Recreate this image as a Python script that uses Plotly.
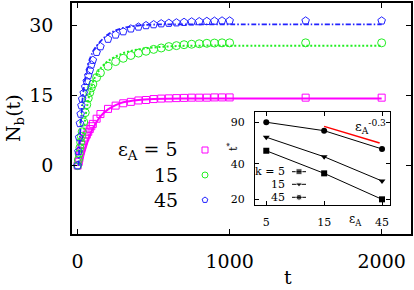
import plotly.graph_objects as go

# ---------------- data ----------------
t_sim = [0, 5, 10, 15, 20, 25, 30, 40, 50, 60, 70, 80, 90, 100, 125, 150,
         200, 250, 300, 350, 400, 450, 500, 550, 600, 650, 700, 750, 800,
         850, 900, 950, 1000, 1500, 2000]
N_eps5 = [0, 0.8, 1.6, 2.4, 3.1, 3.8, 4.4, 5.3, 6.0, 6.6, 7.2, 7.8, 8.4, 8.9,
          10.0, 11.0, 12.1, 12.8, 13.3, 13.6, 13.9, 14.0, 14.2, 14.3, 14.35,
          14.4, 14.45, 14.5, 14.5, 14.5, 14.55, 14.55, 14.55, 14.5, 14.5]
N_eps15 = [0, 1.2, 2.5, 3.8, 5, 6.2, 7.2, 9.3, 11.3, 13, 14.4, 15.6, 16.6, 17.4,
           18.8, 19.8, 21.2, 22.2, 22.9, 23.5, 24.0, 24.4, 24.8, 25.1, 25.4,
           25.6, 25.8, 25.9, 26.0, 26.1, 26.15, 26.2, 26.2, 26.2, 26.2]
N_eps45 = [0, 3, 6, 9, 11, 12.8, 14.2, 15.5, 16.8, 18, 19.2, 20.3, 21.5, 22.5,
           24.2, 25.4, 27, 27.9, 28.6, 29.2, 29.6, 29.9, 30.1, 30.3, 30.4,
           30.5, 30.6, 30.7, 30.75, 30.8, 30.85, 30.9, 30.9, 30.9, 30.9]

fit5_t = [25, 40, 50, 75, 100, 125, 150, 200, 250, 300, 400, 500, 700, 1000, 2000]
fit5_N = [0, 2.4, 3.5, 6.0, 7.9, 9.3, 10.5, 12.0, 12.9, 13.5, 14.0, 14.2, 14.3, 14.3, 14.3]
fit15_t = [15, 30, 50, 70, 100, 125, 150, 200, 300, 400, 500, 650, 800, 1000, 2000]
fit15_N = [0, 4.5, 10, 14, 17.8, 19.5, 20.7, 22.3, 24.0, 24.8, 25.2, 25.5, 25.6, 25.6, 25.6]
fit45_t = [5, 15, 25, 35, 50, 70, 100, 150, 200, 280, 400, 500, 700, 1000, 2000]
fit45_N = [0, 6, 11, 15, 18.5, 21.5, 24.3, 26.5, 28, 29.2, 29.9, 30.1, 30.15, 30.15, 30.15]

main_xticks = [0, 1000, 2000]
main_yticks = [0, 15, 30]
legend_labels = ["ε<sub>A</sub> = 5", "15", "45"]

# inset
eps_vals = [5, 15, 45]
tstar_k5 = [51.6, 33.2, 20]
tstar_k15 = [67.2, 45.9, 28.6]
tstar_k45 = [90, 76.3, 53.4]
eps_ref = [15, 43]
tstar_ref = [83, 60]
inset_xticks = [5, 15, 45]
inset_yticks = [20, 40, 90]
inset_legend_labels = ["k = 5", "15", "45"]

# ---------------- styling ----------------
MAG = "#ff00ff"
GRN = "#22ee22"
BLU = "#2222ff"
FONT = "DejaVu Serif"
BIG = 19
SMALL = 11

fig = go.Figure()

fig.add_trace(go.Scatter(x=t_sim, y=N_eps5, mode="markers",
                         marker=dict(symbol="square-open", size=7, color=MAG, line=dict(width=1)),
                         xaxis="x", yaxis="y"))
fig.add_trace(go.Scatter(x=fit5_t, y=fit5_N, mode="lines", line_shape="spline",
                         line=dict(color=MAG, width=2), xaxis="x", yaxis="y"))
fig.add_trace(go.Scatter(x=t_sim, y=N_eps15, mode="markers",
                         marker=dict(symbol="circle-open", size=8, color=GRN, line=dict(width=1)),
                         xaxis="x", yaxis="y"))
fig.add_trace(go.Scatter(x=fit15_t, y=fit15_N, mode="lines", line_shape="spline",
                         line=dict(color=GRN, width=2, dash="2px,2px"), xaxis="x", yaxis="y"))
fig.add_trace(go.Scatter(x=t_sim, y=N_eps45, mode="markers",
                         marker=dict(symbol="pentagon-open", size=8, color=BLU, line=dict(width=1)),
                         xaxis="x", yaxis="y"))
fig.add_trace(go.Scatter(x=fit45_t, y=fit45_N, mode="lines", line_shape="spline",
                         line=dict(color=BLU, width=1.8, dash="5px,2px,1.5px,2px"),
                         xaxis="x", yaxis="y"))

for vals, sym in [(tstar_k5, "square"), (tstar_k15, "triangle-down"), (tstar_k45, "circle")]:
    fig.add_trace(go.Scatter(x=eps_vals, y=vals, mode="lines+markers",
                             line=dict(color="black", width=1),
                             marker=dict(symbol=sym, size=6, color="black"),
                             xaxis="x2", yaxis="y2"))
fig.add_trace(go.Scatter(x=eps_ref, y=tstar_ref, mode="lines",
                         line=dict(color="red", width=1.5), xaxis="x2", yaxis="y2"))

leg_sym_x = 205
leg_sym_y = [150, 175, 200]
for yy, sym, col in zip(leg_sym_y, ["square-open", "circle-open", "pentagon-open"], [MAG, GRN, BLU]):
    fig.add_trace(go.Scatter(x=[leg_sym_x], y=[yy], mode="markers",
                             marker=dict(symbol=sym, size=6, color=col, line=dict(width=1)),
                             xaxis="x3", yaxis="y3"))
ins_leg_x = [292, 299, 306]
ins_leg_y = [171.7, 184.3, 197.3]
for yy, sym in zip(ins_leg_y, ["square", "triangle-down", "circle"]):
    fig.add_trace(go.Scatter(x=ins_leg_x, y=[yy] * 3, mode="lines+markers",
                             line=dict(color="black", width=1),
                             marker=dict(symbol=sym, size=[0, 6, 0], color="black"),
                             xaxis="x3", yaxis="y3"))

W, H = 414, 290
axis_common = dict(showline=True, linecolor="black", mirror="ticks", ticks="inside",
                   showgrid=False, zeroline=False, tickcolor="black")

fig.update_layout(
    width=W, height=H, margin=dict(l=0, r=0, t=0, b=0),
    paper_bgcolor="white", plot_bgcolor="rgba(0,0,0,0)", showlegend=False,
    font=dict(family=FONT, color="black"),
    xaxis=dict(domain=[72 / W, 411 / W], range=[-37, 2193], tickvals=main_xticks,
               ticklen=5, linewidth=1.5, tickwidth=1.2, tickfont=dict(size=BIG),
               ticklabelstandoff=9, anchor="y", **axis_common),
    yaxis=dict(domain=[1 - 234 / H, 1 - 3 / H], range=[-14.6, 34.7], tickvals=main_yticks,
               ticklen=5, linewidth=1.5, tickwidth=1.2, tickfont=dict(size=BIG),
               ticklabelstandoff=13, anchor="x", **axis_common),
    xaxis2=dict(domain=[255 / W, 390 / W], type="log", range=[0.606, 1.719],
                tickvals=inset_xticks, ticklen=4, linewidth=1, tickfont=dict(size=SMALL),
                ticklabelstandoff=7, anchor="y2", **axis_common),
    yaxis2=dict(domain=[1 - 205 / H, 1 - 112 / H], type="log", range=[1.253, 2.041],
                tickvals=inset_yticks, ticklen=4, linewidth=1, tickfont=dict(size=SMALL),
                ticklabelstandoff=7, anchor="x2", **axis_common),
    xaxis3=dict(domain=[0, 1], range=[0, W], visible=False, anchor="y3", fixedrange=True),
    yaxis3=dict(domain=[0, 1], range=[H, 0], visible=False, anchor="x3", fixedrange=True),
)

ann = []
for yy, txt in zip(leg_sym_y, legend_labels):
    ann.append(dict(x=180, y=yy, text=txt, xanchor="right", yanchor="middle",
                    font=dict(size=BIG)))
for yy, txt in zip(ins_leg_y, inset_legend_labels):
    ann.append(dict(x=287, y=yy, text=txt, xanchor="right", yanchor="middle",
                    font=dict(size=SMALL)))
ann.append(dict(x=14, y=118, text="N<sub>b</sub>(t)", textangle=-90,
                xanchor="center", yanchor="middle", font=dict(size=BIG)))
ann.append(dict(x=288, y=277, text="t", xanchor="center", yanchor="middle",
                font=dict(size=BIG)))
ann.append(dict(x=232, y=147, text="t<sup>*</sup>", textangle=-90,
                xanchor="center", yanchor="middle", font=dict(size=SMALL)))
ann.append(dict(x=355, y=220, text="ε<sub>A</sub>", xanchor="center", yanchor="middle",
                font=dict(size=SMALL + 1)))
ann.append(dict(x=370, y=127, text="ε<sub>A</sub><sup>-0.3</sup>", xanchor="center",
                yanchor="middle", font=dict(size=SMALL + 2)))
for a in ann:
    a.update(xref="x3", yref="y3", showarrow=False)
fig.update_layout(annotations=ann)

fig.write_html("out.html", config={"displayModeBar": False},
               post_script="document.body.style.margin='0';document.body.style.padding='0';")
